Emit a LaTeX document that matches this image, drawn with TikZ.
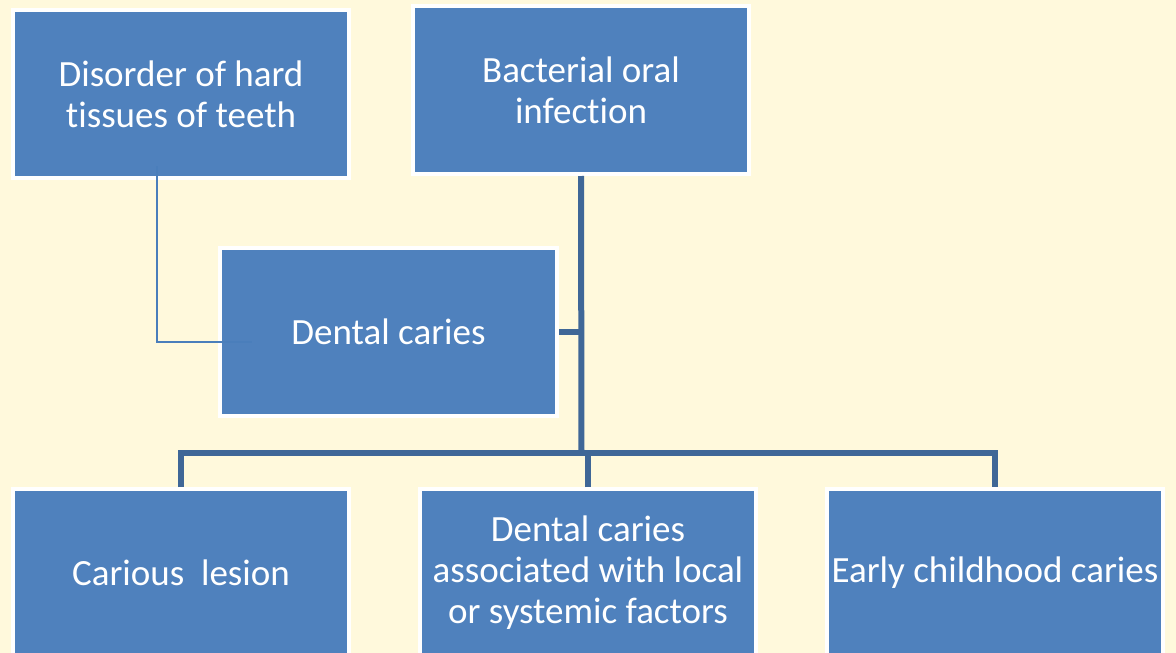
\documentclass[tikz,border=0pt]{standalone}
\usepackage{fontspec}
\setmainfont{Carlito}[Ligatures=NoCommon]
\usetikzlibrary{positioning}
\definecolor{paper}{HTML}{FFF9DC}
\definecolor{boxblue}{HTML}{4F81BD}
\definecolor{linkblue}{HTML}{3F6797}
\definecolor{thinblue}{HTML}{4A7EBB}
\tikzstyle{topic} = [rectangle, minimum width=336pt, minimum height=168pt, text centered, align=center,
                     draw=white, line width=4pt, fill=boxblue, text=white, outer sep=0pt, inner sep=0pt,
                     font=\fontsize{37}{41}\selectfont]
\tikzstyle{trunk} = [line width=6pt, draw=linkblue]
\tikzstyle{thinlink} = [line width=1.5pt, draw=thinblue]

\begin{document}
\begin{tikzpicture}[x=1pt,y=-1pt]

		% Background
		\fill[paper] (0,0) rectangle (1176,653);
		\useasboundingbox (0,0) rectangle (1176,653);

		% Nodes
		\node (disorder) [topic] at (181,94) {Disorder of hard\\tissues of teeth};
		\node (bacterial) [topic, right=64pt of disorder, yshift=4pt] {Bacterial oral\\infection};

		\node (caries) [topic, minimum width=337pt] at (388.5,332) {Dental caries};

		\node (carious) [topic, below=311pt of disorder] {Carious\ \ lesion};
		\node (local) [topic, right=71pt of carious] {Dental caries\\associated with local\\or systemic factors};
		\node (early) [topic, right=71pt of local] {Early childhood caries};

		\coordinate (hub) at (581.5,453);

		% Connectors
		\draw [trunk, shorten <=2pt] (bacterial.south) -- (hub);
		\draw [trunk, shorten <=2pt] (caries.east) -- (caries.east -| hub);
		\draw [trunk, shorten <=2pt, shorten >=2pt] (carious.north) |- (hub) -| (early.north);
		\draw [trunk, shorten <=2pt] (local.north) -- (local.north |- hub);

		\draw [thinlink] ([xshift=-24pt, yshift=12pt]disorder.south) |- ([xshift=-136.5pt, yshift=-10pt]caries.center);
	\end{tikzpicture}
\end{document}
